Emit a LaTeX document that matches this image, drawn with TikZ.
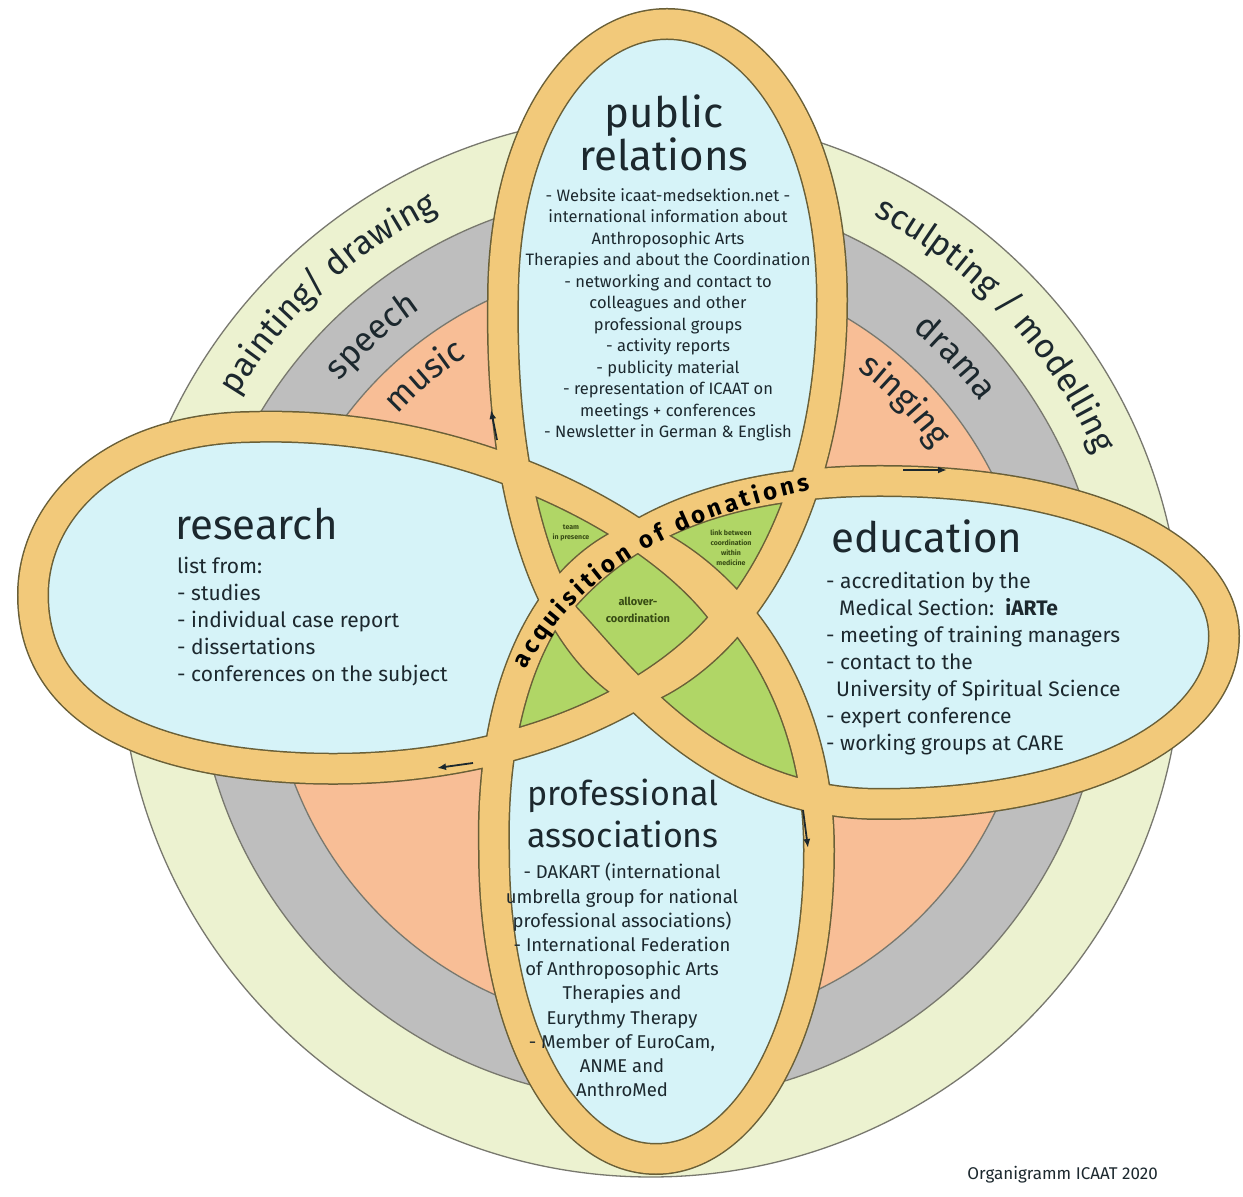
\documentclass[tikz,border=0pt]{standalone}
\usepackage{fontspec}
\setmainfont{Fira Sans}
\usetikzlibrary{arrows.meta, decorations.text}

\definecolor{bandcolor}{RGB}{242,201,122}
\definecolor{bandedgecolor}{RGB}{105,95,55}
\definecolor{lobecolor}{RGB}{214,243,248}
\definecolor{overlapcolor}{RGB}{176,214,102}
\definecolor{outerring}{RGB}{236,242,208}
\definecolor{midring}{RGB}{190,190,190}
\definecolor{innerring}{RGB}{248,190,150}
\definecolor{ringedge}{RGB}{120,120,110}
\definecolor{ink}{RGB}{28,40,46}
\definecolor{greenink}{RGB}{55,75,20}

% centre lines of the four bands
\newcommand{\lobePR}{(637,505) .. controls (550,552) and (500,697) .. (503,897) .. controls (503,1067) and (580,1173) .. (667,1173) .. controls (754,1173) and (832,1067) .. (832,897) .. controls (832,697) and (745,547) .. cycle}
\newcommand{\lobeRS}{(727,579) .. controls (662,672) and (470,777) .. (250,770) .. controls (110,768) and (33,687) .. (33,602) .. controls (33,507) and (110,449) .. (250,433) .. controls (450,410) and (640,472) .. cycle}
\newcommand{\lobeED}{(555,590) .. controls (610,657) and (700,716) .. (880,716) .. controls (1090,716) and (1224,647) .. (1224,561) .. controls (1224,467) and (1090,393) .. (880,393) .. controls (700,393) and (610,537) .. cycle}
\newcommand{\lobePA}{(638,660) .. controls (555,630) and (490,522) .. (494,347) .. controls (494,157) and (570,38) .. (656,38) .. controls (742,38) and (819,157) .. (819,347) .. controls (819,517) and (720,627) .. cycle}
\newcommand{\ringfont}{\fontsize{34}{34}\selectfont}
\newcommand{\acqfont}{\bfseries\fontsize{24}{24}\selectfont}

\begin{document}
\begin{tikzpicture}[x=1pt, y=1pt,
    ring/.style={draw=ringedge, line width=1.3pt},
    bandedge/.style={draw=bandedgecolor, line width=32pt},
    band/.style={draw=bandcolor, line width=29pt},
    title/.style={font=\fontsize{42}{38}\selectfont, text=ink, inner sep=0pt, align=center},
    body/.style={font=\fontsize{21}{27}\selectfont, text=ink, inner sep=0pt, align=left},
    smallbody/.style={font=\fontsize{16.5}{21.5}\selectfont, text=ink, inner sep=0pt, align=center},
    minitext/.style={font=\bfseries\fontsize{7}{10}\selectfont, text=greenink, inner sep=0pt, align=center},
    flow/.style={-{Latex[length=9pt, width=7pt]}, line width=1.8pt, draw=ink},
    arclabel/.style={decorate, decoration={text along path, text align=center, text color=ink}}
]
    \useasboundingbox (0,0) rectangle (1243,1197);
    \fill[white] (0,0) rectangle (1243,1197);
    \coordinate (hub) at (651,551);

    % rings of the arts
    \draw[ring, fill=outerring] (hub) circle[radius=531];
    \draw[ring, fill=midring] (hub) circle[radius=455];
    \draw[ring, fill=innerring] (hub) circle[radius=382];

    \path[arclabel, decoration={text={|\ringfont|painting/ drawing}}] (hub) ++(157.5:484) arc[start angle=157.5, end angle=107.5, radius=484];
    \path[arclabel, decoration={text={|\ringfont|speech}}] (hub) ++(152:408) arc[start angle=152, end angle=112, radius=408];
    \path[arclabel, decoration={text={|\ringfont|music}}] (hub) ++(150:343) arc[start angle=150, end angle=110, radius=343];
    \path[arclabel, decoration={text={|\ringfont|sculpting / modelling}}] (hub) ++(68:484) arc[start angle=68, end angle=18, radius=484];
    \path[arclabel, decoration={text={|\ringfont|drama}}] (hub) ++(63.5:410) arc[start angle=63.5, end angle=23.5, radius=410];
    \path[arclabel, decoration={text={|\ringfont|singing}}] (hub) ++(64:345) arc[start angle=64, end angle=24, radius=345];

    % lobes and their overlaps
    \fill[lobecolor] \lobePR \lobeRS \lobeED \lobePA;
    \begin{scope}
        \clip \lobePR;
        \fill[overlapcolor] \lobeRS \lobeED \lobePA;
    \end{scope}
    \begin{scope}
        \clip \lobePA;
        \fill[overlapcolor] \lobeRS \lobeED;
    \end{scope}
    \begin{scope}
        \clip \lobeRS;
        \fill[overlapcolor] \lobeED;
    \end{scope}
    \draw[bandedge] \lobePR \lobeRS \lobeED \lobePA;
    \draw[band] \lobePR \lobeRS \lobeED \lobePA;

    % flow arrows on the bands
    \coordinate (upTail) at (497,757);
    \coordinate (upTip) at (491,787);
    \coordinate (rightTail) at (903,727);
    \coordinate (rightTip) at (947,727);
    \coordinate (downTail) at (803,387);
    \coordinate (downTip) at (808,349);
    \coordinate (leftTail) at (473,434);
    \coordinate (leftTip) at (437,429);
    \draw[flow] (upTail) -- (upTip);
    \draw[flow] (rightTail) -- (rightTip);
    \draw[flow] (downTail) -- (downTip);
    \draw[flow] (leftTail) -- (leftTip);

    \path[decorate, decoration={text along path, text align=fit to path, text color=black, text={|\acqfont|acquisition of donations}}]
        (526,527) .. controls (568,607) and (650,672) .. (810,707);

    % texts
    \node[title] (prTitle) at (664,1064) {public\\relations};
    \node[smallbody] (prBody) at (668,882) {- Website icaat-medsektion.net -\\international information about\\Anthroposophic Arts\\Therapies and about the Coordination\\- networking and contact to\\colleagues and other\\professional groups\\- activity reports\\- publicity material\\- representation of ICAAT on\\meetings + conferences\\- Newsletter in German \& English};

    \node[title, anchor=base west] (resTitle) at (175,657) {research};
    \node[body, anchor=west] (resBody) at (177,575) {list from:\\- studies\\- individual case report\\- dissertations\\- conferences on the subject};

    \node[title, anchor=base west] (eduTitle) at (831,644) {education};
    \node[body, anchor=west] (eduBody) at (826,533) {- accreditation by the\\\hspace*{13pt}Medical Section:\ \ \textbf{iARTe}\\- meeting of training managers\\- contact to the\\\hspace*{10pt}University of Spiritual Science\\- expert conference\\- working groups at CARE};

    \node[title, font=\fontsize{34}{42}\selectfont] (proTitle) at (623,384) {professional\\associations};
    \node[smallbody, font=\fontsize{18.5}{24.2}\selectfont] (proBody) at (622,217) {- DAKART (international\\umbrella group for national\\professional associations)\\- International Federation\\of Anthroposophic Arts\\Therapies and\\Eurythmy Therapy\\- Member of EuroCam,\\ANME and\\AnthroMed};

    \node[minitext, font=\bfseries\fontsize{11}{17}\selectfont] (coreText) at (638,587) {allover-\\coordination};
    \node[minitext] (ulText) at (571,664) {team\\in presence};
    \node[minitext] (urText) at (731,649) {link between\\coordination\\within\\medicine};

    \node[font=\fontsize{17}{17}\selectfont, text=ink, anchor=east, inner sep=0pt] (credit) at (1158,22) {Organigramm ICAAT 2020};
\end{tikzpicture}
\end{document}
